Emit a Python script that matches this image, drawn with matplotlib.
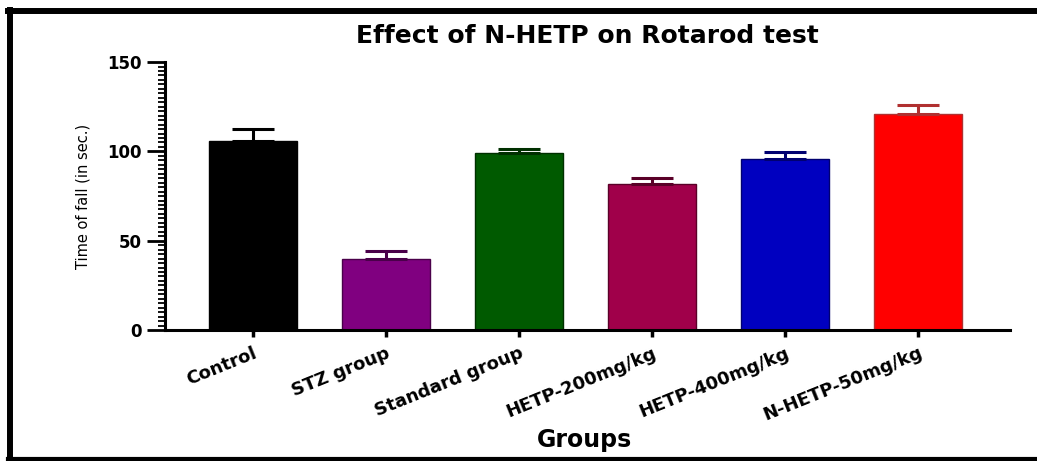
import numpy as np
import matplotlib.pyplot as plt
from matplotlib.lines import Line2D
from matplotlib.ticker import MultipleLocator

# Rotarod test: mean time of fall with upper SEM bars
groups = ["Control", "STZ group", "Standard group",
          "HETP-200mg/kg", "HETP-400mg/kg", "N-HETP-50mg/kg"]
means = [106, 40, 99, 82, 96, 121]
sem = [6.3, 4.2, 2.5, 3.3, 3.7, 5.0]
bar_colors = ["#000000", "#800080", "#005a00", "#a0004a", "#0000c0", "#ff0000"]
edge_colors = ["#000000", "#4a004a", "#003000", "#5a0028", "#000070", "#b03030"]

fig = plt.figure(figsize=(10.37, 4.61), dpi=100)
ax = fig.add_axes([0.159, 0.284, 0.815, 0.5813])

x = np.arange(len(groups))
ax.bar(x, means, width=0.66, color=bar_colors, edgecolor=edge_colors,
       linewidth=1, zorder=2)
for xi, m, e, c in zip(x, means, sem, edge_colors):
    ax.errorbar(xi, m, yerr=[[0], [e]], fmt="none", ecolor=c,
                elinewidth=2.2, capsize=15, capthick=2.2, zorder=3)

ax.set_xlim(-0.66, 5.69)
ax.set_ylim(0, 150)
ax.yaxis.set_major_locator(MultipleLocator(50))
ax.yaxis.set_minor_locator(MultipleLocator(2.5))

for side in ["top", "right"]:
    ax.spines[side].set_visible(False)
for side in ["left", "bottom"]:
    ax.spines[side].set_linewidth(2.2)

ax.tick_params(axis="y", which="major", length=13, width=2, pad=4,
               labelsize=12)
ax.tick_params(axis="y", which="minor", length=5, width=1.3)
ax.tick_params(axis="x", which="major", length=5, width=2.5, pad=5)
for lbl in ax.get_yticklabels():
    lbl.set_fontweight("bold")

ax.set_xticks(x)
ax.set_xticklabels(groups, rotation=22, ha="right", va="top",
                   rotation_mode="anchor", fontsize=13, fontweight="bold")

ax.set_ylabel("Time of fall (in sec.)", fontsize=10.5,
              family=["Liberation Sans Narrow", "DejaVu Sans"], labelpad=12)

fig.text(0.566, 0.922, "Effect of N-HETP on Rotarod test",
         ha="center", va="center", fontsize=18, fontweight="bold")
fig.text(0.564, 0.046, "Groups", ha="center", va="center",
         fontsize=17, fontweight="bold")

# frame lines around the figure
fig.add_artist(Line2D([0.008, 1.0], [0.976, 0.976], color="black",
                      linewidth=4.3, transform=fig.transFigure))
fig.add_artist(Line2D([0.0096, 0.0096], [0.0, 0.978], color="black",
                      linewidth=4.3, transform=fig.transFigure))
fig.add_artist(Line2D([0.008, 1.0], [0.004, 0.004], color="black",
                      linewidth=3, transform=fig.transFigure))

fig.savefig("out.png", dpi=100)
